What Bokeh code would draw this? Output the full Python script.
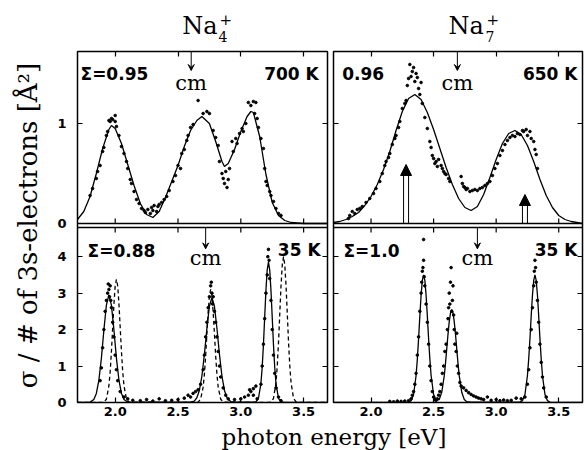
import math
from bokeh.plotting import figure
from bokeh.models import (Range1d, FixedTicker, LinearAxis, Label, Arrow, VeeHead,
                          NormalHead, PrintfTickFormatter, ColumnDataSource, Span)
from bokeh.layouts import row, column
from bokeh.embed import file_html
from bokeh.resources import INLINE
from bokeh.core.properties import value

# ---------------- data ----------------
x_ticks = [2.0, 2.5, 3.0, 3.5]
top_y_ticks = [0, 1]
bot_y_ticks = [0, 1, 2, 3, 4]

titles = ["Na", "Na"]
title_sub = ["4", "7"]
title_sup = ["+", "+"]
sigma_text = ["Σ=0.95", "0.96", "Σ=0.88", "Σ=1.0"]
temp_text = ["700 K", "650 K", "35 K", "35 K"]
cm_x = [2.605, 2.69, 2.72, 2.85]

# Na4+ 700 K fitted curve
tl_curve_x = [1.70, 1.75, 1.80, 1.85, 1.90, 1.95, 1.97, 2.00, 2.05, 2.10, 2.15, 2.20, 2.25, 2.30,
              2.35, 2.40, 2.45, 2.50, 2.55, 2.60, 2.65, 2.69, 2.75, 2.80, 2.85, 2.87, 2.90, 2.95,
              3.00, 3.05, 3.08, 3.10, 3.15, 3.20, 3.25, 3.30, 3.35, 3.40, 3.50, 3.69]
tl_curve_y = [0.04, 0.12, 0.27, 0.50, 0.75, 0.94, 0.98, 0.95, 0.80, 0.59, 0.38, 0.20, 0.09, 0.06,
              0.12, 0.26, 0.42, 0.58, 0.77, 0.93, 1.03, 1.07, 1.00, 0.82, 0.62, 0.57, 0.60, 0.74,
              0.92, 1.07, 1.12, 1.11, 0.87, 0.49, 0.21, 0.08, 0.03, 0.01, 0.0, 0.0]
tl_points = [(1.80, 0.28), (1.82, 0.35), (1.85, 0.45), (1.86, 0.52), (1.88, 0.58), (1.90, 0.72),
             (1.91, 0.76), (1.93, 0.88), (1.94, 0.92), (1.95, 1.03), (1.96, 1.02), (1.97, 1.05),
             (1.98, 1.04), (2.00, 1.08), (2.00, 1.02), (2.01, 0.97), (2.03, 0.88), (2.05, 0.77),
             (2.07, 0.70), (2.09, 0.62), (2.10, 0.55), (2.12, 0.44), (2.13, 0.40), (2.15, 0.32),
             (2.17, 0.24), (2.19, 0.20), (2.21, 0.15), (2.23, 0.13), (2.24, 0.11), (2.26, 0.14),
             (2.28, 0.10), (2.29, 0.16), (2.30, 0.13), (2.31, 0.18), (2.33, 0.12), (2.34, 0.17),
             (2.35, 0.19), (2.37, 0.21), (2.39, 0.24), (2.41, 0.27), (2.43, 0.33), (2.46, 0.42),
             (2.48, 0.48), (2.50, 0.58), (2.52, 0.55), (2.53, 0.70), (2.55, 0.74), (2.57, 0.83),
             (2.58, 0.88), (2.60, 0.96), (2.62, 0.99), (2.66, 1.23), (2.70, 1.10), (2.73, 1.12),
             (2.75, 1.10), (2.78, 0.93), (2.80, 0.86), (2.82, 0.78), (2.83, 0.62), (2.85, 0.50),
             (2.86, 0.45), (2.87, 0.40), (2.88, 0.52), (2.89, 0.36), (2.90, 0.44), (2.91, 0.55),
             (2.93, 0.82), (2.94, 0.72), (2.96, 0.85), (2.97, 0.80), (2.99, 0.90), (3.01, 0.95),
             (3.02, 0.92), (3.04, 1.00), (3.06, 1.21), (3.08, 1.18), (3.10, 1.22), (3.11, 1.10),
             (3.12, 1.21), (3.13, 1.05), (3.14, 0.96), (3.16, 0.85), (3.18, 0.75), (3.19, 0.55),
             (3.20, 0.42), (3.21, 0.38), (3.23, 0.32), (3.24, 0.28), (3.26, 0.22), (3.28, 0.15),
             (3.30, 0.10), (3.32, 0.08)]

# Na7+ 650 K fitted curve
tr_curve_x = [1.70, 1.75, 1.80, 1.85, 1.90, 1.95, 2.00, 2.05, 2.10, 2.15, 2.20, 2.25, 2.30, 2.35,
              2.40, 2.45, 2.50, 2.55, 2.60, 2.65, 2.70, 2.75, 2.80, 2.85, 2.90, 2.95, 3.00, 3.05,
              3.10, 3.15, 3.20, 3.25, 3.30, 3.35, 3.40, 3.45, 3.50, 3.55, 3.60, 3.69]
tr_curve_y = [0.01, 0.02, 0.04, 0.07, 0.11, 0.18, 0.27, 0.39, 0.54, 0.72, 0.93, 1.12, 1.25, 1.29,
              1.24, 1.11, 0.94, 0.75, 0.56, 0.39, 0.25, 0.16, 0.13, 0.17, 0.29, 0.46, 0.64, 0.80,
              0.90, 0.93, 0.89, 0.78, 0.62, 0.44, 0.28, 0.16, 0.08, 0.04, 0.02, 0.0]
tr_points = [(1.82, 0.05), (1.83, 0.08), (1.85, 0.12), (1.87, 0.10), (1.89, 0.14), (1.91, 0.15),
             (1.93, 0.17), (1.96, 0.21), (1.99, 0.25), (2.02, 0.30), (2.04, 0.35), (2.07, 0.42),
             (2.09, 0.50), (2.11, 0.58), (2.12, 0.62), (2.14, 0.66), (2.15, 0.70), (2.17, 0.79),
             (2.19, 0.85), (2.20, 0.88), (2.22, 0.96), (2.23, 1.02), (2.25, 1.15), (2.27, 1.20),
             (2.28, 1.23), (2.29, 1.38), (2.30, 1.45), (2.31, 1.59), (2.32, 1.47), (2.33, 1.52),
             (2.34, 1.56), (2.35, 1.42), (2.36, 1.50), (2.37, 1.46), (2.38, 1.35), (2.39, 1.29),
             (2.40, 1.41), (2.41, 1.20), (2.43, 1.06), (2.45, 0.95), (2.47, 0.82), (2.48, 0.76),
             (2.49, 0.68), (2.50, 0.65), (2.51, 0.60), (2.52, 0.62), (2.53, 0.57), (2.54, 0.64),
             (2.56, 0.58), (2.57, 0.55), (2.58, 0.52), (2.59, 0.50), (2.60, 0.49), (2.62, 0.45),
             (2.63, 0.42), (2.72, 0.47), (2.73, 0.40), (2.74, 0.37), (2.75, 0.36), (2.76, 0.34),
             (2.77, 0.35), (2.79, 0.32), (2.81, 0.33), (2.83, 0.34), (2.85, 0.33), (2.87, 0.35),
             (2.89, 0.36), (2.91, 0.38), (2.93, 0.40), (2.95, 0.42), (2.97, 0.48), (2.99, 0.55),
             (3.01, 0.60), (3.03, 0.68), (3.05, 0.73), (3.07, 0.79), (3.09, 0.83), (3.11, 0.86),
             (3.13, 0.88), (3.15, 0.87), (3.17, 0.90), (3.19, 0.89), (3.21, 0.93), (3.22, 0.92),
             (3.24, 0.94), (3.25, 0.88), (3.27, 0.92), (3.28, 0.85), (3.30, 0.82), (3.31, 0.74),
             (3.32, 0.69), (3.33, 0.55)]
tr_arrow_x = [2.28, 3.23]
tr_arrow_h = [0.59, 0.29]

# Na4+ 35 K: fitted (solid) and calculated (dashed)
bl_solid_x = [1.70, 1.78, 1.80, 1.83, 1.85, 1.87, 1.89, 1.91, 1.93, 1.95, 1.97, 1.99, 2.01, 2.03,
              2.05, 2.07, 2.10, 2.15, 2.30, 2.50, 2.60, 2.63, 2.65, 2.67, 2.69, 2.71, 2.73, 2.75,
              2.77, 2.79, 2.81, 2.83, 2.85, 2.87, 2.89, 2.92, 2.95, 3.05, 3.10, 3.12, 3.14, 3.16,
              3.17, 3.18, 3.19, 3.20, 3.21, 3.22, 3.23, 3.24, 3.25, 3.26, 3.27, 3.28, 3.30, 3.32,
              3.35, 3.50, 3.69]
bl_solid_y = [0.0, 0.0, 0.01, 0.08, 0.25, 0.61, 1.21, 1.99, 2.67, 2.95, 2.67, 1.99, 1.21, 0.61,
              0.25, 0.08, 0.01, 0.0, 0.01, 0.01, 0.01, 0.04, 0.13, 0.33, 0.72, 1.32, 2.03, 2.64,
              2.88, 2.64, 2.03, 1.32, 0.72, 0.33, 0.13, 0.02, 0.01, 0.01, 0.01, 0.015, 0.11, 0.52,
              0.96, 1.58, 2.34, 3.08, 3.64, 3.85, 3.64, 3.08, 2.34, 1.58, 0.96, 0.52, 0.11, 0.015,
              0.0, 0.0, 0.0]
bl_dash_x = [1.70, 1.89, 1.91, 1.93, 1.95, 1.96, 1.97, 1.98, 1.99, 2.00, 2.01, 2.02, 2.03, 2.04,
             2.05, 2.06, 2.07, 2.09, 2.11, 2.64, 2.66, 2.68, 2.70, 2.71, 2.72, 2.73, 2.74, 2.75,
             2.76, 2.77, 2.78, 2.79, 2.80, 2.81, 2.82, 2.84, 2.86, 3.22, 3.24, 3.26, 3.28, 3.29,
             3.30, 3.31, 3.32, 3.33, 3.34, 3.35, 3.36, 3.37, 3.38, 3.39, 3.40, 3.42, 3.44, 3.46,
             3.69]
bl_dash_y = [0.0, 0.0, 0.01, 0.09, 0.46, 0.84, 1.39, 2.05, 2.70, 3.20, 3.38, 3.20, 2.70, 2.05,
             1.39, 0.84, 0.46, 0.09, 0.01, 0.0, 0.01, 0.09, 0.42, 0.77, 1.27, 1.88, 2.48, 2.93,
             3.10, 2.93, 2.48, 1.88, 1.27, 0.77, 0.42, 0.09, 0.01, 0.0, 0.02, 0.11, 0.54, 1.00,
             1.64, 2.43, 3.20, 3.78, 4.00, 3.78, 3.20, 2.43, 1.64, 1.00, 0.54, 0.11, 0.02, 0.0,
             0.0]
bl_points = [(1.88, 0.60), (1.89, 0.95), (1.90, 1.50), (1.91, 2.00), (1.92, 2.50), (1.93, 2.80),
             (1.94, 3.00), (1.945, 3.25), (1.95, 3.10), (1.955, 2.90), (1.96, 3.20), (1.965, 2.80),
             (1.97, 2.60), (1.98, 2.20), (1.99, 1.80), (2.00, 1.30), (2.01, 0.90), (2.02, 0.60),
             (2.04, 0.30), (2.07, 0.15), (2.10, 0.10), (2.14, 0.06), (2.20, 0.05), (2.25, 0.08),
             (2.30, 0.04), (2.35, 0.10), (2.40, 0.05), (2.45, 0.06), (2.50, 0.08), (2.55, 0.12),
             (2.58, 0.20), (2.60, 0.15), (2.62, 0.25), (2.64, 0.30), (2.66, 0.35), (2.68, 0.50),
             (2.70, 0.90), (2.71, 1.30), (2.72, 1.80), (2.73, 2.20), (2.74, 2.60), (2.75, 2.90),
             (2.76, 3.20), (2.765, 3.30), (2.77, 3.00), (2.775, 2.70), (2.78, 2.90), (2.79, 2.50),
             (2.80, 2.20), (2.81, 1.80), (2.82, 1.40), (2.83, 1.00), (2.84, 0.70), (2.86, 0.40),
             (2.88, 0.20), (2.90, 0.10), (2.95, 0.08), (3.00, 0.10), (3.03, 0.15), (3.06, 0.20),
             (3.08, 0.30), (3.10, 0.38), (3.12, 0.45), (3.07, 0.35), (3.10, 0.20), (3.13, 0.10),
             (3.16, 0.50), (3.17, 1.00), (3.18, 1.60), (3.19, 2.30), (3.20, 3.00), (3.21, 3.50),
             (3.215, 4.00), (3.22, 4.20), (3.225, 3.90), (3.23, 3.40), (3.24, 2.80), (3.25, 2.00),
             (3.26, 1.30), (3.27, 0.80), (3.28, 0.40), (3.30, 0.15), (3.32, 0.05)]

# Na7+ 35 K fitted curve
br_solid_x = [1.70, 2.30, 2.32, 2.34, 2.36, 2.37, 2.38, 2.39, 2.40, 2.41, 2.42, 2.43, 2.44, 2.45,
              2.46, 2.47, 2.48, 2.50, 2.52, 2.545, 2.565, 2.585, 2.595, 2.605, 2.615, 2.625,
              2.635, 2.645, 2.655, 2.665, 2.675, 2.685, 2.695, 2.705, 2.725, 2.745, 2.765, 2.80,
              3.19, 3.21, 3.23, 3.25, 3.26, 3.27, 3.28, 3.29, 3.30, 3.31, 3.32, 3.33, 3.34, 3.35,
              3.36, 3.37, 3.39, 3.41, 3.43, 3.69]
br_solid_y = [0.0, 0.01, 0.05, 0.22, 0.74, 1.19, 1.75, 2.37, 2.94, 3.35, 3.50, 3.35, 2.94, 2.37,
              1.75, 1.19, 0.74, 0.22, 0.07, 0.08, 0.28, 0.73, 1.07, 1.47, 1.87, 2.22, 2.46, 2.55,
              2.46, 2.22, 1.87, 1.47, 1.07, 0.73, 0.28, 0.08, 0.02, 0.01, 0.01, 0.05, 0.22, 0.74,
              1.19, 1.75, 2.37, 2.94, 3.35, 3.50, 3.35, 2.94, 2.37, 1.75, 1.19, 0.74, 0.22, 0.05,
              0.01, 0.0]
br_points = [(2.15, 0.03), (2.18, 0.02), (2.21, 0.04), (2.24, 0.03), (2.27, 0.04), (2.30, 0.05),
             (2.32, 0.10), (2.33, 0.20), (2.34, 0.30), (2.35, 0.50), (2.36, 0.80), (2.37, 1.30),
             (2.38, 1.80), (2.39, 2.50), (2.40, 3.00), (2.405, 3.30), (2.41, 3.60), (2.415, 3.70),
             (2.42, 3.90), (2.425, 3.45), (2.42, 4.47), (2.43, 3.20), (2.44, 2.70), (2.45, 2.20),
             (2.46, 1.60), (2.47, 1.00), (2.48, 0.60), (2.49, 0.30), (2.50, 0.15), (2.51, 0.08),
             (2.52, 0.06), (2.53, 0.10), (2.54, 0.20), (2.55, 0.30), (2.56, 0.50), (2.57, 0.80),
             (2.58, 1.00), (2.59, 1.40), (2.60, 1.60), (2.61, 2.00), (2.615, 2.30), (2.62, 2.60),
             (2.625, 3.00), (2.63, 2.70), (2.635, 3.30), (2.64, 3.70), (2.645, 2.50), (2.65, 2.80),
             (2.655, 3.20), (2.66, 2.40), (2.665, 2.00), (2.67, 1.60), (2.68, 1.40), (2.685, 1.90),
             (2.69, 1.00), (2.70, 0.80), (2.71, 0.55), (2.72, 0.45), (2.74, 0.40), (2.76, 0.33),
             (2.78, 0.27), (2.80, 0.22), (2.82, 0.18), (2.84, 0.15), (2.86, 0.12), (2.88, 0.10),
             (2.90, 0.08), (2.93, 0.15), (2.96, 0.06), (3.00, 0.08), (3.03, 0.05), (3.06, 0.07),
             (3.09, 0.05), (3.12, 0.06), (3.16, 0.12), (3.20, 0.10), (3.23, 0.15), (3.25, 0.50),
             (3.26, 0.90), (3.27, 1.50), (3.28, 2.00), (3.29, 2.60), (3.30, 3.20), (3.305, 3.60),
             (3.31, 3.90), (3.315, 3.70), (3.32, 3.30), (3.33, 2.80), (3.34, 2.20), (3.35, 1.60),
             (3.36, 1.10), (3.37, 0.70), (3.38, 0.40), (3.40, 0.15)]

# ---------------- geometry / style ----------------
X_START, X_END = 1.70, 3.69
TOP_YMAX, BOT_YMAX = 1.72, 4.8
TOP_PX, GAP_PX, BOT_PX = 172, 4, 175          # pixel heights of the two stacked panels
BOTTOM_BORDER = 20
MAIN_HI = BOT_YMAX * (TOP_PX + GAP_PX + BOT_PX) / BOT_PX
TOP_LO = -TOP_YMAX * (GAP_PX + BOT_PX) / TOP_PX
TICK_FONT = "DejaVu Sans"
SERIF = "DejaVu Serif"
LW = 1.3
DOT = 2.6
HEAD_GAP = 0.08    # shaft of the double arrows stops under the arrow head


def top_to_main(v):
    return round((v - TOP_LO) / (TOP_YMAX - TOP_LO) * MAIN_HI, 4)


y_tick_pos = [float(v) for v in bot_y_ticks] + [top_to_main(v) for v in top_y_ticks]
y_tick_lab = {float(v): str(v) for v in bot_y_ticks}
y_tick_lab.update({top_to_main(v): str(v) for v in top_y_ticks})


def style_axis(ax, ticks, show_labels, standoff, overrides=None):
    ax.ticker = FixedTicker(ticks=ticks)
    ax.formatter = PrintfTickFormatter(format="%.1f")
    if overrides:
        ax.major_label_overrides = overrides
    ax.major_tick_in = 5
    ax.major_tick_out = 0
    ax.minor_tick_line_color = None
    ax.axis_line_color = None
    ax.major_tick_line_color = "black"
    ax.major_tick_line_width = 1.2
    ax.major_label_text_font = TICK_FONT
    ax.major_label_text_font_style = "bold"
    if show_labels:
        ax.major_label_text_color = "black"
        ax.major_label_text_font_size = "13px"
        ax.major_label_standoff = standoff
    else:
        ax.major_label_text_color = None
        ax.major_label_text_font_size = "0px"
        ax.major_label_standoff = 0


def make_column(width, border_left, border_right, show_y):
    p = figure(width=width, height=2 + TOP_PX + GAP_PX + BOT_PX + BOTTOM_BORDER, title=None,
               x_range=Range1d(X_START, X_END), y_range=Range1d(0, MAIN_HI),
               output_backend="svg", toolbar_location=None,
               min_border_left=border_left, min_border_right=border_right,
               min_border_top=2, min_border_bottom=BOTTOM_BORDER)
    p.extra_y_ranges = {"top": Range1d(TOP_LO, TOP_YMAX)}
    p.xgrid.visible = False
    p.ygrid.visible = False
    p.outline_line_color = "black"
    p.outline_line_width = 1.5
    style_axis(p.xaxis[0], x_ticks, True, 4)
    style_axis(p.yaxis[0], y_tick_pos, show_y, 11, y_tick_lab)
    top = LinearAxis()
    style_axis(top, x_ticks, False, 0)
    p.add_layout(top, "above")
    right = LinearAxis()
    style_axis(right, y_tick_pos, False, 0)
    p.add_layout(right, "right")
    # panel separation (top panel bottom edge, bottom panel top edge) with inward ticks
    p.add_layout(Span(location=0, dimension="width", y_range_name="top",
                      line_color="black", line_width=1.5))
    p.add_layout(Span(location=BOT_YMAX, dimension="width",
                      line_color="black", line_width=1.5))
    p.ray(x=x_ticks, y=[0 for _ in x_ticks], length=5, length_units="screen",
          angle=math.pi / 2, y_range_name="top", line_color="black", line_width=1.2)
    p.ray(x=x_ticks, y=[BOT_YMAX for _ in x_ticks], length=5, length_units="screen",
          angle=-math.pi / 2, line_color="black", line_width=1.2)
    return p


def annotate(p, idx, rng, ymax, y_sigma, y_tip, y_cm, y_temp, x_sigma, x_temp):
    p.add_layout(Label(x=x_sigma, y=y_sigma, y_range_name=rng, text=sigma_text[idx],
                       text_font=TICK_FONT, text_font_size="17px", text_font_style="bold",
                       text_color="black", text_align="left", text_baseline="alphabetic"))
    p.add_layout(Label(x=x_temp, y=y_temp, y_range_name=rng, text=temp_text[idx],
                       text_font=TICK_FONT, text_font_size="17px", text_font_style="bold",
                       text_color="black", text_align="right", text_baseline="alphabetic"))
    p.add_layout(Arrow(end=VeeHead(size=6, line_color="black", line_width=1, fill_color="black"),
                       x_start=cm_x[idx], y_start=ymax, x_end=cm_x[idx], y_end=y_tip,
                       y_range_name=rng, line_color="black", line_width=1))
    p.add_layout(Label(x=cm_x[idx], y=y_cm, y_range_name=rng, text="cm", text_font=SERIF,
                       text_font_size="21px", text_color="black", text_align="center",
                       text_baseline="alphabetic"))


# ---- left column: Na4+ ----
left = make_column(282, 29, 3, True)
left.line(tl_curve_x, tl_curve_y, y_range_name="top", line_color="black", line_width=LW)
left.scatter([q[0] for q in tl_points], [q[1] for q in tl_points], y_range_name="top",
             size=DOT, color="black")
annotate(left, 0, "top", TOP_YMAX, 1.50, 1.53, 1.41, 1.50, 1.724, 3.62)
left.line(bl_dash_x, bl_dash_y, line_color="black", line_width=LW, line_dash="4 3")
left.line(bl_solid_x, bl_solid_y, line_color="black", line_width=LW)
left.scatter([q[0] for q in bl_points], [q[1] for q in bl_points], size=DOT, color="black")
annotate(left, 2, "default", BOT_YMAX, 4.15, 4.215, 3.965, 4.175, 1.78, 3.635)

# ---- right column: Na7+ ----
right = make_column(254, 3, 2, False)
right.line(tr_curve_x, tr_curve_y, y_range_name="top", line_color="black", line_width=LW)
right.scatter([q[0] for q in tr_points], [q[1] for q in tr_points], y_range_name="top",
              size=DOT, color="black")
right.rect(x=tr_arrow_x, y=[(h - HEAD_GAP) / 2 for h in tr_arrow_h], width=5,
           width_units="screen", height=[h - HEAD_GAP for h in tr_arrow_h], y_range_name="top",
           fill_color="white", line_color="black", line_width=1)
arr_src = ColumnDataSource(dict(x=tr_arrow_x, y0=[0 for _ in tr_arrow_x], y1=tr_arrow_h))
right.add_layout(Arrow(end=NormalHead(size=11, fill_color="black", line_color="black"),
                       x_start="x", y_start="y0", x_end="x", y_end="y1", source=arr_src,
                       y_range_name="top", line_alpha=0))
annotate(right, 1, "top", TOP_YMAX, 1.50, 1.53, 1.41, 1.50, 1.77, 3.65)
right.line(br_solid_x, br_solid_y, line_color="black", line_width=LW)
right.scatter([q[0] for q in br_points], [q[1] for q in br_points], size=DOT, color="black")
annotate(right, 3, "default", BOT_YMAX, 4.15, 4.215, 3.965, 4.175, 1.78, 3.65)


def strip(width, height):
    s = figure(width=width, height=height, x_range=Range1d(0, width), y_range=Range1d(0, height),
               title=None, output_backend="svg", toolbar_location=None, min_border=0,
               min_border_left=0, min_border_right=0, min_border_top=0, min_border_bottom=0,
               x_axis_location=None, y_axis_location=None)
    s.xgrid.visible = False
    s.ygrid.visible = False
    s.outline_line_color = None
    return s


# column titles  Na4+ / Na7+
title_strip = strip(536, 49)
title_strip.text(x=[133.7, 400], y=[23.5, 23.5], text=titles, text_font=value(SERIF),
                 text_font_size=value("24px"), text_align="left", text_baseline="alphabetic",
                 text_color="black")
title_strip.text(x=[170, 437], y=[13, 13], text=title_sub, text_font=value(SERIF),
                 text_font_size=value("14px"), text_align="left", text_baseline="alphabetic",
                 text_color="black")
title_strip.text(x=[171, 438], y=[30, 30], text=title_sup, text_font=value(SERIF),
                 text_font_size=value("15px"), text_align="left", text_baseline="alphabetic",
                 text_color="black")

# y-axis title
ylab = strip(48, 450)
ylab.text(x=[27], y=[225], text=["σ / # of 3s-electrons [Å²]"], angle=math.pi / 2,
          text_font=value(SERIF), text_font_size=value("26px"), text_align="center",
          text_baseline="middle", text_color="black")

# x-axis title
XLAB_H = 450 - 49 - (2 + TOP_PX + GAP_PX + BOT_PX + BOTTOM_BORDER)
xlab = strip(536, XLAB_H)
xlab.text(x=[285.5], y=[XLAB_H / 2], text=["photon energy [eV]"], text_font=value(SERIF),
          text_font_size=value("23px"), text_align="center", text_baseline="middle",
          text_color="black")

layout = row(ylab, column(title_strip, row(left, right), xlab))

with open("out.html", "w") as f:
    f.write(file_html(layout, INLINE))
